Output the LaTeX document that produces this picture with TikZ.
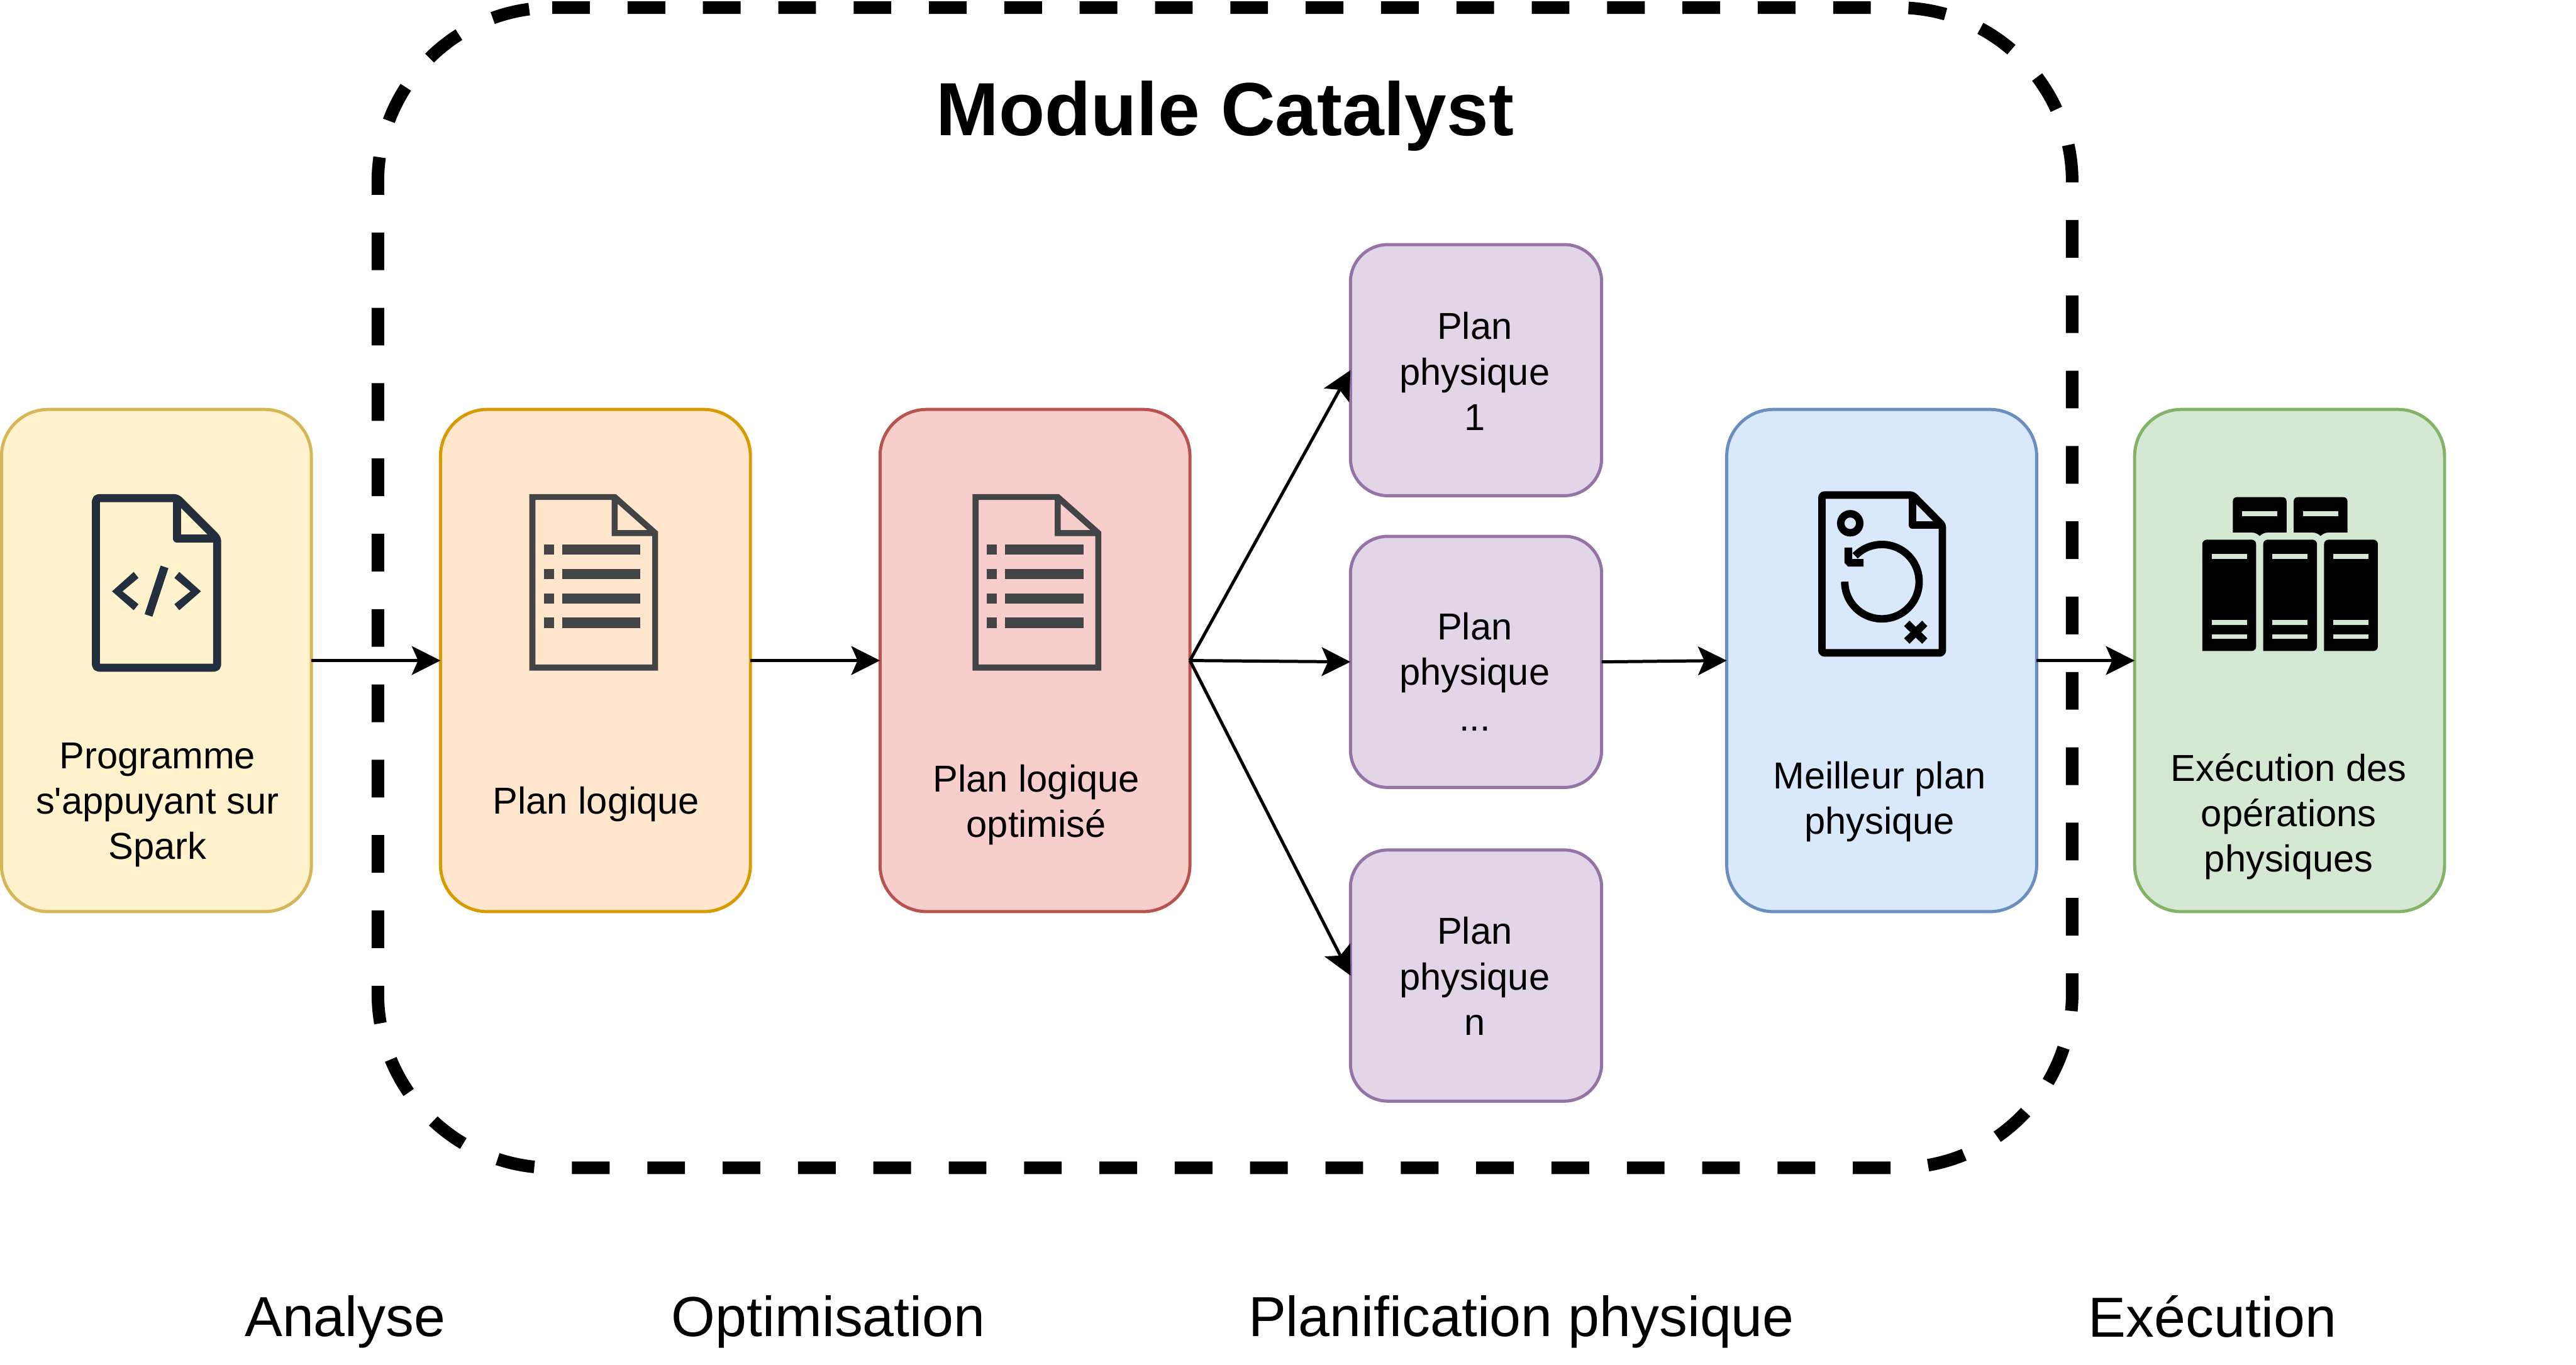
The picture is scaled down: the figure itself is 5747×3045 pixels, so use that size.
\documentclass[tikz,border=0pt]{standalone}
\usepackage{fontspec}
\setmainfont{Liberation Sans}[Ligatures=TeXOff]
\usetikzlibrary{arrows.meta}
\definecolor{yfill}{HTML}{FFF2CC}\definecolor{ydraw}{HTML}{D6B656}
\definecolor{ofill}{HTML}{FFE6CC}\definecolor{odraw}{HTML}{D79B00}
\definecolor{rfill}{HTML}{F8CECC}\definecolor{rdraw}{HTML}{B85450}
\definecolor{pfill}{HTML}{E1D5E7}\definecolor{pdraw}{HTML}{9673A6}
\definecolor{bfill}{HTML}{DAE8FC}\definecolor{bdraw}{HTML}{6C8EBF}
\definecolor{gfill}{HTML}{D5E8D4}\definecolor{gdraw}{HTML}{82B366}
\definecolor{iconA}{HTML}{232F3E}\definecolor{iconB}{HTML}{434445}
\newcommand{\lst}{\rule[-.25em]{0pt}{.9em}}
\newcommand{\docicon}[1]{%
  \begin{scope}[shift={(#1,0)}]
    \fill[iconB,even odd rule] (1181,1102.6)--(1374,1102.6)--(1468.3,1186.4)--(1468.3,1496.4)--(1181,1496.4)--cycle
      (1194.7,1115.6)--(1364.7,1115.6)--(1364.7,1196.3)--(1455,1196.3)--(1455,1483)--(1194.7,1483)--cycle
      (1378,1124.4)--(1444,1183)--(1378,1183)--cycle;
    \foreach \ya/\yb in {1215/1238,1269.8/1292.8,1324.1/1347.1,1378.5/1401.5}{
      \fill[iconB] (1213,\ya) rectangle (1236,\yb);
      \fill[iconB] (1254,\ya) rectangle (1429,\yb);
    }
  \end{scope}}
\tikzset{
  x=0.01cm,y=-0.01cm,
  stagebox/.style={draw,line width=.07cm,outer sep=0pt,inner sep=0pt,minimum width=6.91cm,minimum height=11.2cm,rounded corners=1.04cm},
  planbox/.style={draw=pdraw,fill=pfill,line width=.07cm,outer sep=0pt,inner sep=0pt,minimum width=5.6cm,minimum height=5.6cm,rounded corners=.83cm},
  lbl/.style={align=center,inner sep=0pt,text=black,font=\fontsize{23.8pt}{28.9pt}\selectfont},
  stage/.style={inner sep=0pt,text=black,font=\fontsize{35.8pt}{42pt}\selectfont},
  conn/.style={line width=.07cm,-{Stealth[length=.64cm,width=.64cm,inset=.14cm]}},
}
\begin{document}
\begin{tikzpicture}
\useasboundingbox (0,0) rectangle (5747,3045);

% boxes
\node[stagebox,draw=ydraw,fill=yfill] (yellow) at (349,1474) {};
\node[stagebox,draw=odraw,fill=ofill] (orange) at (1328.5,1474) {};
\node[stagebox,draw=rdraw,fill=rfill] (red) at (2309,1474) {};
\node[planbox] (p1) at (3293,826) {};
\node[planbox] (p2) at (3293,1477) {};
\node[planbox] (pn) at (3293,2177) {};
\node[stagebox,draw=bdraw,fill=bfill] (blue) at (4198,1474) {};
\node[stagebox,draw=gdraw,fill=gfill] (green) at (5108,1474) {};

% connectors
\draw[conn] (yellow.east) -- (orange.west);
\draw[conn] (orange.east) -- (red.west);
\draw[conn] (red.east) -- (p1.west);
\draw[conn] (red.east) -- (p2.west);
\draw[conn] (red.east) -- (pn.west);
\draw[conn] (p2.east) -- (blue.west);
\draw[conn] (blue.east) -- (green.west);

% dashed module frame: circular corners, starting at the top-left tangent point
\draw[line width=.28cm,dash pattern=on .84cm off .84cm]
  (1232,17) -- (4234,17)
  .. controls (4448.8,17) and (4623,191.2) .. (4623,406)
  -- (4623,2217)
  .. controls (4623,2431.8) and (4448.8,2606) .. (4234,2606)
  -- (1232,2606)
  .. controls (1017.2,2606) and (843,2431.8) .. (843,2217)
  -- (843,406)
  .. controls (843,191.2) and (1017.2,17) .. (1232,17) -- cycle;

% code file icon
\begin{scope}
  \draw[iconA,line width=.18cm,rounded corners=.07cm,line join=round]
    (394.5,1111.5) -- (214,1111.5) -- (214,1490) -- (484.5,1490) -- (484.5,1201.5) -- cycle;
  \draw[iconA,line width=.18cm,line join=round] (394.5,1111.5) -- (394.5,1201.5) -- (484.5,1201.5);
  \fill[iconA] (298.3,1276.3)--(309,1289.7)--(273.3,1319.6)--(309,1348.3)--(298.3,1361.7)--(250,1319.6)--cycle;
  \fill[iconA] (400,1276.3)--(389,1289.7)--(425,1319.6)--(389,1348.3)--(400,1361.7)--(448.3,1319.6)--cycle;
  \fill[iconA] (358.3,1262.1)--(375.7,1267.9)--(340,1376.2)--(322.7,1370.5)--cycle;
\end{scope}

% list file icons
\docicon{0}
\docicon{988.5}

% best-plan icon
\begin{scope}
  \draw[line width=.167cm,rounded corners=.05cm,line join=round]
    (4266.7,1104.7) -- (4064.7,1104.7) -- (4064.7,1457) -- (4333.3,1457) -- (4333.3,1171.9) -- cycle;
  \draw[line width=.167cm,line join=round] (4266.7,1104.7) -- (4266.7,1171.9) -- (4333.3,1171.9);
  \draw[line width=.167cm] (4127.8,1167.7) ellipse [x radius=21.2,y radius=21.2];
  \draw[line width=.167cm] plot[domain=180:496,samples=90] ({4198.5+83*cos(\x)},{1298-83*sin(\x)});
  \fill (4115,1222)--(4132.3,1222)--(4132.3,1247.6)--(4157.3,1247.6)--(4157.3,1264.4)--(4123,1264.4)--(4115,1256)--cycle;
  \draw[line width=.17cm] (4254,1391.1) -- (4294,1430.5);
  \draw[line width=.17cm] (4294,1391.1) -- (4254,1430.5);
\end{scope}

% servers icon
\foreach \dx in {0,135.8,271.6}{
  \begin{scope}[shift={(\dx,0)}]
    \fill[rounded corners=.1cm] (4913.3,1452.7) -- (4913.3,1204.3) -- (5033.3,1204.3) -- (5033.3,1452.7) [sharp corners] -- cycle;
    \fill[gfill] (4934,1236) rectangle (5012.7,1246.7);
    \fill[gfill] (4934,1384) rectangle (5012.7,1394.7);
    \fill[gfill] (4934,1415.3) rectangle (5012.7,1426);
  \end{scope}
}
\foreach \dx in {0,135.8}{
  \begin{scope}[shift={(\dx,0)}]
    \fill (4981.3,1188.3) -- (4981.3,1119.3) .. controls (4981.3,1113) and (4985,1109.3) .. (4991.3,1109.3)
      -- (5091.3,1109.3) .. controls (5097.6,1109.3) and (5101.3,1113) .. (5101.3,1119.3) -- (5101.3,1188.3)
      -- (5059.3,1188.3) .. controls (5052,1188.3) and (5046,1191.5) .. (5041.3,1196)
      .. controls (5036.6,1191.5) and (5030.6,1188.3) .. (5023.3,1188.3) -- cycle;
    \fill[gfill] (5002,1141) rectangle (5080.7,1151.7);
  \end{scope}
}

% texts
\node[lbl] (tyellow) at (351,1798) {\lst Programme\\\lst s'appuyant sur\\\lst Spark};
\node[lbl] (torange) at (1330,1797) {\lst Plan logique};
\node[lbl] (tred) at (2312,1798) {\lst Plan logique\\\lst optimisé};
\node[lbl] (tblue) at (4193,1791) {\lst Meilleur plan\\\lst physique};
\node[lbl] (tgreen) at (5106,1824) {\lst Exécution des\\\lst opérations\\\lst physiques};
\node[lbl] (tp1) at (3290,839) {\lst Plan\\\lst physique\\\lst 1};
\node[lbl] (tp2) at (3290,1509) {\lst Plan\\\lst physique\\\lst ...};
\node[lbl] (tpn) at (3290,2189) {\lst Plan\\\lst physique\\\lst n};

\node[inner sep=0pt,font=\fontsize{47.8pt}{58pt}\selectfont\bfseries] (title) at (2733,262) {\rule[-.25em]{0pt}{.9em}Module Catalyst};
\node[stage] (s1) at (770,2953) {\lst Analyse};
\node[stage] (s2) at (1848,2953) {\lst Optimisation};
\node[stage] (s3) at (3394,2953) {\lst Planification physique};
\node[stage] (s4) at (4936,2953) {\lst Exécution};
\end{tikzpicture}
\end{document}
